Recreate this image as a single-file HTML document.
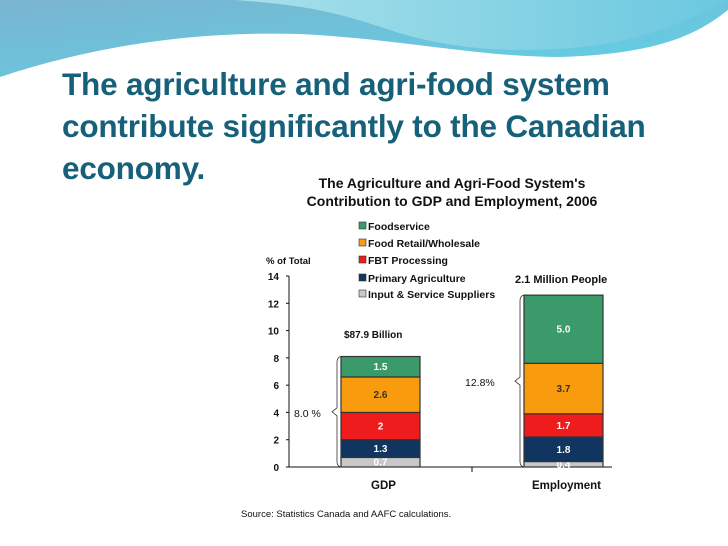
<!DOCTYPE html>
<html><head><meta charset="utf-8"><style>
html,body{margin:0;padding:0;background:#fff;}
#wrap{position:relative;width:728px;height:546px;overflow:hidden;font-family:"Liberation Sans",sans-serif;}
.title{position:absolute;left:62px;color:#17607a;font-weight:bold;font-size:31.5px;line-height:42px;top:63px;letter-spacing:-0.2px;}
</style></head><body>
<div id="wrap">
<svg width="728" height="90" style="position:absolute;left:0;top:0">
<defs>
<linearGradient id="g1" x1="0" y1="0" x2="1" y2="1"><stop offset="0" stop-color="#7ab4d0"/><stop offset="1" stop-color="#5fd2e6"/></linearGradient>
<linearGradient id="g2" x1="0" y1="0" x2="1" y2="0"><stop offset="0" stop-color="#a8e0ea"/><stop offset="1" stop-color="#6ac8e0"/></linearGradient>
</defs>
<path d="M0,0 H728 V10 C690,40 650,55 560,58 C480,58 400,40 300,35 C200,32 100,45 0,78 Z" fill="url(#g1)"/>
<path d="M235,0 C300,5 330,10 390,30 C450,50 520,55 600,45 C660,35 700,15 728,0 Z" fill="url(#g2)"/>
<path d="M0,78 C100,45 200,32 300,35 C400,40 480,58 560,58 C650,55 690,40 728,12" fill="none" stroke="#fff" stroke-width="2"/>
<path d="M0,90 C100,60 200,48 300,52 C400,56 480,62 560,60" fill="none" stroke="#fff" stroke-width="6"/>
</svg>
<div class="title">The agriculture and agri-food system<br>contribute significantly to the Canadian<br>economy.</div>
<svg id="chart" width="728" height="546" style="position:absolute;left:0;top:0"></svg>
</div>
<script>
const categories=["GDP","Employment"];
const seriesNames=["Input & Service Suppliers","Primary Agriculture","FBT Processing","Food Retail/Wholesale","Foodservice"];
const gdpValues=[0.7,1.3,2,2.6,1.5];
const empValues=[0.4,1.8,1.7,3.7,5.0];
const valueLabels=[["0.7","1.3","2","2.6","1.5"],["0.4","1.8","1.7","3.7","5.0"]];
const yTicks=[0,2,4,6,8,10,12,14];
const colors=["#c8c8c8","#0f3560","#ee1c1c","#f89c0e","#3a9a6a"];
const textColors=["#fff","#fff","#fff","#333","#fff"];
const NS="http://www.w3.org/2000/svg";
const svg=document.getElementById('chart');
const y=v=>467-v*13.64;
const xBar=[341,524], bw=79;
function mk(t,a,txt){const e=document.createElementNS(NS,t);for(const k in a)e.setAttribute(k,a[k]);if(txt!==undefined)e.textContent=txt;svg.appendChild(e);return e;}
const F='"Liberation Sans",sans-serif';
let e;
e=mk('text',{x:452,y:188,'text-anchor':'middle','font-family':F,'font-weight':'bold','font-size':14,fill:'#111'},"The Agriculture and Agri-Food System's");


e=mk('text',{x:452,y:206,'text-anchor':'middle','font-family':F,'font-weight':'bold','font-size':14,fill:'#111'},"Contribution to GDP and Employment, 2006");


e=mk('text',{x:266,y:264,'font-family':F,'font-weight':'bold','font-size':9.5,fill:'#111'},"% of Total");


e=mk('line',{x1:289,y1:y(14),x2:289,y2:467,stroke:'#111','stroke-width':1});


e=mk('line',{x1:289,y1:467,x2:612,y2:467,stroke:'#111','stroke-width':1});


mk('line',{x1:472,y1:467,x2:472,y2:472,stroke:'#111'});
yTicks.forEach(t=>{
  mk('line',{x1:286,y1:y(t),x2:289,y2:y(t),stroke:'#111'});
  e=mk('text',{x:279,y:y(t)+4,'text-anchor':'end','font-family':F,'font-weight':'bold','font-size':10,fill:'#111'},String(t));
  
  
});
const legY=[230,247,264,282,298];
for(let i=4;i>=0;i--){
  const ly=legY[4-i];
  e=mk('rect',{x:359,y:ly-8,width:7,height:7,fill:colors[i],stroke:'#333','stroke-width':0.6});
  
  
  e=mk('text',{x:368,y:ly,'font-family':F,'font-weight':'bold','font-size':10.5,fill:'#111'},seriesNames[i]);
  
  
}
[gdpValues,empValues].forEach((vals,ci)=>{
  let cum=0;
  vals.forEach((v,si)=>{
    const y0=y(cum),y1=y(cum+v);
    e=mk('rect',{x:xBar[ci],y:y1,width:bw,height:y0-y1,fill:colors[si],stroke:'#333','stroke-width':1.2});
    
    
    e=mk('text',{x:xBar[ci]+bw/2,y:(y0+y1)/2+3.5,'text-anchor':'middle','font-family':F,'font-weight':'bold','font-size':10,fill:textColors[si]},valueLabels[ci][si]);
    
    
    cum+=v;
  });
  e=mk('text',{x:xBar[ci]+bw/2+3,y:489,'text-anchor':'middle','font-family':F,'font-weight':'bold','font-size':11.5,fill:'#111'},categories[ci]);
  
  
});
const gTot=gdpValues.reduce((a,b)=>a+b,0), eTot=empValues.reduce((a,b)=>a+b,0);
function brace(x,top,bot){
  const m=(top+bot)/2;
  mk('path',{d:`M${x+5},${top} Q${x},${top} ${x},${top+6} L${x},${m-4} L${x-5},${m} L${x},${m+4} L${x},${bot-6} Q${x},${bot} ${x+5},${bot}`,fill:'none',stroke:'#333','stroke-width':0.8});
}
brace(337,y(gTot),467);brace(520,y(eTot),467);
e=mk('text',{x:294,y:417,'font-family':F,'font-size':10.5,fill:'#111'},"8.0 %");


e=mk('text',{x:465,y:386,'font-family':F,'font-size':10.5,fill:'#111'},"12.8%");


e=mk('text',{x:344,y:338,'font-family':F,'font-weight':'bold','font-size':10,fill:'#111'},"$87.9  Billion");


e=mk('text',{x:515,y:283,'font-family':F,'font-weight':'bold','font-size':11,fill:'#111'},"2.1 Million People");


e=mk('text',{x:241,y:517,'font-family':F,'font-size':9.5,fill:'#111'},"Source:      Statistics Canada and AAFC calculations.");


</script>
</body></html>
